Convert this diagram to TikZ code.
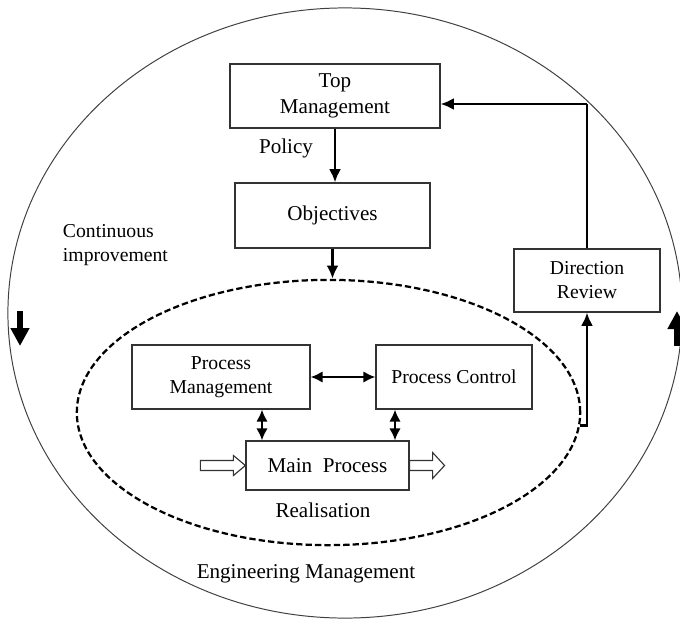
\documentclass[tikz,border=0pt]{standalone}
\usepackage{fontspec}
\setmainfont{Liberation Serif}
\usetikzlibrary{arrows.meta,shapes.geometric,calc}

\tikzset{
  box/.style={draw=black!80, line width=0.8pt, inner sep=0pt, align=center,
    font=\fontsize{15}{18}\selectfont},
  smallbox/.style={box, font=\fontsize{14}{17}\selectfont},
  lbl/.style={font=\fontsize{15}{18}\selectfont},
  smalllbl/.style={font=\fontsize{14}{17}\selectfont},
  flow/.style={line width=1.9pt, -{Latex[length=3.3mm,width=3mm]}},
  twoway/.style={line width=1.9pt,
    {Latex[length=3mm,width=2.9mm]}-{Latex[length=3mm,width=2.9mm]}},
  hollow/.style={draw=black!80, line width=0.8pt, fill=white},
  bigarrow/.style={line width=4.3pt, -{Triangle[length=4.5mm,width=4.5mm]}}
}

\begin{document}
\begin{tikzpicture}[x=0.025cm, y=-0.025cm]
\useasboundingbox (0,0) rectangle (680,620);

% outer loop and the dashed realisation loop
\node[draw=black!75, line width=0.7pt, ellipse, inner sep=0pt,
  minimum width=16.85cm, minimum height=15.25cm] (engineering) at (345,313) {};
\node[draw, line width=1.6pt, dash pattern=on 4.5pt off 2.2pt, ellipse, inner sep=0pt,
  minimum width=12.58cm, minimum height=6.63cm] (realisation) at (328.5,412.5) {};

% boxes
\node[box, minimum width=5.25cm, minimum height=1.6cm] (top) at (335,96) {Top\\Management};
\node[box, minimum width=4.875cm, minimum height=1.625cm] (obj) at (332.5,215.5) {Objectives};
\node[smallbox, minimum width=3.65cm, minimum height=1.575cm] (review) at (587,280.5) {Direction\\Review};
\node[smallbox, minimum width=4.45cm, minimum height=1.6cm] (pm) at (221,377) {Process\\Management};
\node[smallbox, minimum width=3.9cm, minimum height=1.6cm] (pc) at (454,377) {Process Control};
\node[box, minimum width=4.075cm, minimum height=1.225cm] (main) at (327.5,465.5) {Main~~Process};

% free labels
\node[lbl] (policy) at (286,148) {Policy};
\node[lbl] (realtext) at (323,510) {Realisation};
\node[lbl] (engtext) at (306,574) {Engineering Management};
\node[smalllbl, align=left, anchor=west] (improve) at (58,245) {Continuous\\improvement};

% connectors
\draw[flow] (top.south) -- (top.south |- obj.north);
\draw[flow] (obj.south) -- (obj.south |- realisation.north);
\draw[twoway] (pm.east) -- (pc.west);
\coordinate (pmx) at (262,0);
\coordinate (pcx) at (395,0);
\draw[twoway] (pm.south -| pmx) -- (main.north -| pmx);
\draw[twoway] (pc.south -| pcx) -- (main.north -| pcx);
\draw[flow] (realisation.-3) -| (review.south);

% review feeds back to top management
\coordinate (turn) at (587,104);
\draw[line width=0.8pt] (review.north) -- (turn);
\draw[flow] (turn) -- (turn -| top.east);

% input and output of the main process
\draw[hollow] ($(main.west)+(-45,-5)$) -- ++(33,0) -- ++(0,-5) -- ++(12,10)
  -- ++(-12,10) -- ++(0,-5) -- ++(-33,0) -- cycle;
\draw[hollow] ($(main.east)+(0,-5)$) -- ++(23,0) -- ++(0,-8) -- ++(12,13)
  -- ++(-12,13) -- ++(0,-8) -- ++(-23,0) -- cycle;

% direction of the improvement loop
\coordinate (downtail) at (20,311);
\coordinate (downtip) at (20,346);
\coordinate (uptail) at (677,346);
\coordinate (uptip) at (677,311);
\draw[bigarrow] (downtail) -- (downtip);
\draw[bigarrow] (uptail) -- (uptip);

\end{tikzpicture}
\end{document}
